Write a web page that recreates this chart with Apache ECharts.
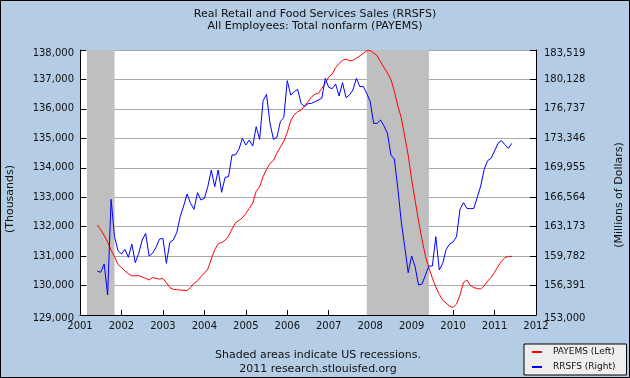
<!DOCTYPE html>
<html><head><meta charset="utf-8">
<script src="https://cdn.jsdelivr.net/npm/echarts@6/dist/echarts.min.js"></script>
<style>html,body{margin:0;padding:0;background:#b4cde5}#c{width:630px;height:378px}</style>
</head><body><div id="c"></div>
<script>
// Monthly data, June 2001 .. June 2011
const firstMonth = '2001-06';
const payems = [
132060,131900,131700,131480,131200,130980,130720,130610,130500,130400,
130330,130330,130340,130290,130240,130190,130280,130240,130220,130240,
130100,129930,129870,129860,129850,129840,129830,129930,130080,130160,
130300,130420,130560,130900,131220,131420,131460,131540,131680,131920,
132130,132210,132300,132450,132620,132800,133200,133350,133700,133950,
134150,134250,134500,134700,134900,135200,135600,135800,135900,135960,
136100,136250,136400,136500,136530,136700,136860,137090,137180,137400,
137540,137650,137690,137630,137650,137720,137800,137890,137970,137990,
137900,137810,137600,137400,137220,137000,136600,136100,135700,135060,
134430,133600,132900,132200,131560,131000,130600,130250,129950,129700,
129500,129400,129300,129260,129370,129680,130100,130190,130000,129930,
129900,129880,130000,130150,130280,130450,130650,130820,130950,130990,
130990];
const rrsfs = [
158066,157913,158873,155302,166320,162021,160408,160024,160562,159640,
161176,159026,160101,161637,162404,159794,160101,160792,161752,161829,
158949,161368,161637,162481,164324,165552,166935,165860,165169,167088,
166243,166435,167779,169699,167779,169699,167126,168854,168931,171426,
171426,172079,173346,172578,173154,172463,174689,173230,177684,178413,
175073,173230,173461,175265,175764,179987,178336,178720,178989,177377,
176993,177338,177377,177569,177760,177952,180256,179219,179066,179603,
178221,179757,178029,178336,178912,180256,179296,179334,178528,177569,
175073,175073,175457,174766,173921,171426,170965,167587,163748,160869,
157874,159794,158565,156454,156569,157606,158642,158642,162021,158182,
158949,160562,161176,161406,162021,165169,165936,165283,165245,165283,
166551,167856,169775,170774,171042,171887,172770,173077,172616,172194,
172770];
const leftTicks = [129000,130000,131000,132000,133000,134000,135000,136000,137000,138000];
const rightTicks = [153000,156391,159782,163173,166564,169955,173346,176737,180128,183519];
const yearTicks = [2001,2002,2003,2004,2005,2006,2007,2008,2009,2010,2011,2012];
const recessions = [['2001-03','2001-11'],['2007-12','2009-06']];

function toYear(s){ const p = s.split('-').map(Number); return p[0] + (p[1]-1)/12; }
const y0 = Number(firstMonth.split('-')[0]), m0 = Number(firstMonth.split('-')[1]) - 1;
const months = payems.map((_, i) => { const t = y0*12 + m0 + i; return Math.floor(t/12) + '-' + String(t%12 + 1).padStart(2,'0'); });

const FONT = 'DejaVu Sans';
function edgeFmt(ticks){
  const lo = ticks[0], hi = ticks[ticks.length-1];
  return v => {
    const s = Number(v).toLocaleString('en-US');
    if (Math.abs(v - lo) < 1 || Math.abs(v - hi) < 1) return '{e|' + s + '}';
    return s;
  };
}
const edgeRich = {e: {fontSize: 10, color: '#111', fontFamily: FONT, padding: [6, 0, 0, 0]}};
const chart = echarts.init(document.getElementById('c'), null, {renderer:'canvas'});
chart.setOption({
  backgroundColor: '#b4cde5',
  animation: false,
  textStyle: {fontFamily: FONT},
  grid: {left: 80, right: 94, top: 50, bottom: 63, show: true, backgroundColor: '#ffffff', borderWidth: 0},
  xAxis: {
    type: 'value', min: yearTicks[0], max: yearTicks[yearTicks.length-1], interval: 1,
    axisLine: {lineStyle: {color: '#000', width: 1}},
    axisTick: {inside: true, length: 5, lineStyle: {color: '#000'}},
    axisLabel: {formatter: v => String(v), fontSize: 10, color: '#111', margin: 6, fontFamily: FONT},
    splitLine: {show: false}
  },
  yAxis: [{
    type: 'value', min: leftTicks[0], max: leftTicks[leftTicks.length-1], interval: 1000,
    axisLine: {show: true, lineStyle: {color: '#000', width: 1}},
    axisTick: {show: true, inside: true, length: 6, lineStyle: {color: '#000'}},
    axisLabel: {formatter: edgeFmt(leftTicks), rich: edgeRich, fontSize: 10, color: '#111', margin: 6, fontFamily: FONT},
    splitLine: {show: true, lineStyle: {color: '#a8a8a8', width: 1}}
  }, {
    type: 'value', position: 'right', min: rightTicks[0], max: rightTicks[rightTicks.length-1],
    axisLine: {show: true, lineStyle: {color: '#000', width: 1}},
    axisTick: {show: true, inside: true, length: 6, lineStyle: {color: '#000'}, customValues: rightTicks},
    axisLabel: {formatter: edgeFmt(rightTicks), rich: edgeRich, fontSize: 10, color: '#111', margin: 8, fontFamily: FONT, customValues: rightTicks},
    splitLine: {show: false}
  }],
  legend: {
    orient: 'vertical', left: 524, top: 344,
    data: ['PAYEMS (Left)', 'RRSFS (Right)'],
    backgroundColor: '#eeeeee', borderColor: '#000', borderWidth: 1,
    padding: [2, 11, 2, 8], itemGap: 3, itemWidth: 10, itemHeight: 2, icon: 'rect',
    textStyle: {fontSize: 9, color: '#111', fontFamily: FONT, padding: [0,0,0,6], lineHeight: 12},
    selectedMode: false
  },
  series: [{
    type: 'line', name: 'recessions', data: [], z: 1, silent: true,
    markArea: {silent: true, itemStyle: {color: '#bfbfbf'},
      data: recessions.map(r => [{xAxis: toYear(r[0])}, {xAxis: toYear(r[1])}])}
  }, {
    type: 'line', name: 'PAYEMS (Left)', yAxisIndex: 0, z: 3,
    data: months.map((m, i) => [toYear(m), payems[i]]),
    showSymbol: false, symbol: 'none', color: '#ff0000',
    lineStyle: {color: '#ff0000', width: 1}
  }, {
    type: 'line', name: 'RRSFS (Right)', yAxisIndex: 1, z: 3,
    data: months.map((m, i) => [toYear(m), rrsfs[i]]),
    showSymbol: false, symbol: 'none', color: '#0000ff',
    lineStyle: {color: '#0000ff', width: 1}
  }],
  graphic: [
    {type: 'text', x: 315, y: 20, style: {text: 'Real Retail and Food Services Sales (RRSFS)\nAll Employees: Total nonfarm (PAYEMS)', fontSize: 11, fontFamily: FONT, fill: '#111', align: 'center', verticalAlign: 'middle', lineHeight: 12}},
    {type: 'text', x: 318, y: 362, style: {text: 'Shaded areas indicate US recessions.\n2011 research.stlouisfed.org', fontSize: 11, fontFamily: FONT, fill: '#111', align: 'center', verticalAlign: 'middle', lineHeight: 14}},
    {type: 'text', x: 10, y: 199, rotation: Math.PI/2, style: {text: '(Thousands)', fontSize: 11, fontFamily: FONT, fill: '#111', align: 'center', verticalAlign: 'middle'}},
    {type: 'text', x: 619, y: 195, rotation: Math.PI/2, style: {text: '(Millions of Dollars)', fontSize: 11, fontFamily: FONT, fill: '#111', align: 'center', verticalAlign: 'middle'}},
    {type: 'rect', z: 100, shape: {x: 0.5, y: 0.5, width: 629, height: 377}, style: {fill: 'none', stroke: '#000', lineWidth: 1}}
  ]
});
</script></body></html>
